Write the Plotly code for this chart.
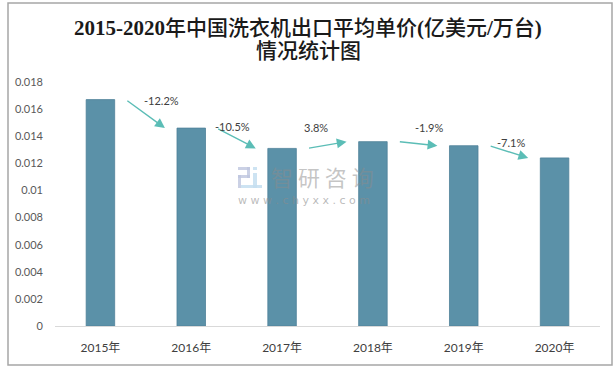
import plotly.graph_objects as go

years = ["2015年", "2016年", "2017年", "2018年", "2019年", "2020年"]
prices = [0.0167, 0.0146, 0.0131, 0.0136, 0.0133, 0.0124]
growth_labels = ["-12.2%", "-10.5%", "3.8%", "-1.9%", "-7.1%"]
y_tickvals = [0, 0.002, 0.004, 0.006, 0.008, 0.01, 0.012, 0.014, 0.016, 0.018]
y_ticktext = ["0", "0.002", "0.004", "0.006", "0.008", "0.01", "0.012", "0.014", "0.016", "0.018"]

# label pixel offsets from arrow midpoints (styling)
label_shift = [(16, 13), (-4, 12), (-11, 18), (11, 16), (2, 9)]

W, H = 616, 369
L, R, T, B = 55, 16, 82, 43
pw, ph = W - L - R, H - T - B

def px(x):
    return (x - L) / pw

def py(y):
    return (H - B - y) / ph

fig = go.Figure()
fig.add_trace(go.Bar(
    x=list(range(len(years))), y=prices,
    marker=dict(color="#5B91A8", line=dict(color="#4F8299", width=0.8)),
    width=0.314,
    hoverinfo="skip",
))

annotations = []
shapes = []
arrow_color = "#5BBDB6"
for i, lab in enumerate(growth_labels):
    x0, y0 = i + 0.28, prices[i]
    x1, y1 = i + 0.71, prices[i + 1]
    annotations.append(dict(
        x=x1, y=y1, ax=x0, ay=y0, xref="x", yref="y", axref="x", ayref="y",
        showarrow=True, arrowhead=2, arrowsize=1.4, arrowwidth=1.4,
        arrowcolor=arrow_color, text="",
    ))
    dx, dy = label_shift[i]
    annotations.append(dict(
        x=(x0 + x1) / 2, y=(y0 + y1) / 2, xref="x", yref="y",
        text=lab, showarrow=False, xshift=dx, yshift=dy,
        font=dict(family="Lato, Noto Sans", size=11, color="#404040"),
    ))

# title
title_font = dict(family="Liberation Serif, Noto Sans CJK SC", size=21, color="#1a1a1a", weight=500)
annotations.append(dict(
    x=px(308), y=py(28), xref="paper", yref="paper", showarrow=False,
    xanchor="center", yanchor="middle",
    text="<b>2015-2020</b>年中国洗衣机出口平均单价<b>(</b>亿美元<b>/</b>万台<b>)</b>", font=title_font,
))
annotations.append(dict(
    x=px(308), y=py(51), xref="paper", yref="paper", showarrow=False,
    xanchor="center", yanchor="middle",
    text="情况统计图", font=title_font,
))

# watermark
annotations.append(dict(
    x=px(269), y=py(176), xref="paper", yref="paper", showarrow=False,
    xanchor="left", yanchor="middle",
    text="智&nbsp;研&nbsp;咨&nbsp;询", font=dict(family="Noto Sans CJK SC", size=22, color="rgba(140,140,140,0.5)"),
))
annotations.append(dict(
    x=px(236), y=py(200), xref="paper", yref="paper", showarrow=False,
    xanchor="left", yanchor="middle",
    text="w&nbsp;w&nbsp;w&nbsp;.&nbsp;c&nbsp;h&nbsp;y&nbsp;x&nbsp;x&nbsp;.&nbsp;c&nbsp;o&nbsp;m",
    font=dict(family="DejaVu Sans", size=11, color="rgba(140,140,140,0.6)"),
))
lav = "rgba(190,198,222,0.8)"
blu = "rgba(196,222,240,0.85)"
for (xa, ya, xb, yb, c) in [
    (238, 167, 250, 170, lav), (247, 167, 250, 178, lav), (238, 175, 250, 178, lav),
    (238, 175, 241, 188, lav), (253, 167, 257, 170, blu), (253, 173, 257, 188, blu),
    (241, 185, 262, 188, blu),
]:
    shapes.append(dict(type="rect", xref="paper", yref="paper",
                       x0=px(xa), x1=px(xb), y0=py(yb), y1=py(ya),
                       fillcolor=c, line=dict(width=0), layer="above"))

# outer border
shapes.append(dict(type="rect", xref="paper", yref="paper",
                   x0=px(8), x1=px(612), y0=py(365), y1=py(3),
                   line=dict(color="#A6A6A6", width=1.5), fillcolor="rgba(0,0,0,0)", layer="below"))

fig.update_layout(
    width=W, height=H,
    margin=dict(l=L, r=R, t=T, b=B),
    paper_bgcolor="white", plot_bgcolor="white",
    showlegend=False,
    annotations=annotations, shapes=shapes,
    xaxis=dict(
        tickmode="array", tickvals=list(range(len(years))), ticktext=years,
        range=[-0.5, len(years) - 0.5],
        showline=True, linecolor="#D9D9D9", linewidth=1, showgrid=False, zeroline=False,
        ticks="", tickfont=dict(family="Lato, Noto Sans CJK SC", size=12, color="#404040"),
        ticklabelstandoff=11,
    ),
    yaxis=dict(
        range=[0, 0.018], tickmode="array", tickvals=y_tickvals, ticktext=y_ticktext,
        showgrid=False, zeroline=False, showline=False, ticks="",
        tickfont=dict(family="Lato, Noto Sans", size=11, color="#595959"),
        ticklabelstandoff=11,
    ),
)

fig.write_html("out.html", config={"displayModeBar": False},
               post_script="document.body.style.margin='0';document.body.style.padding='0';")
